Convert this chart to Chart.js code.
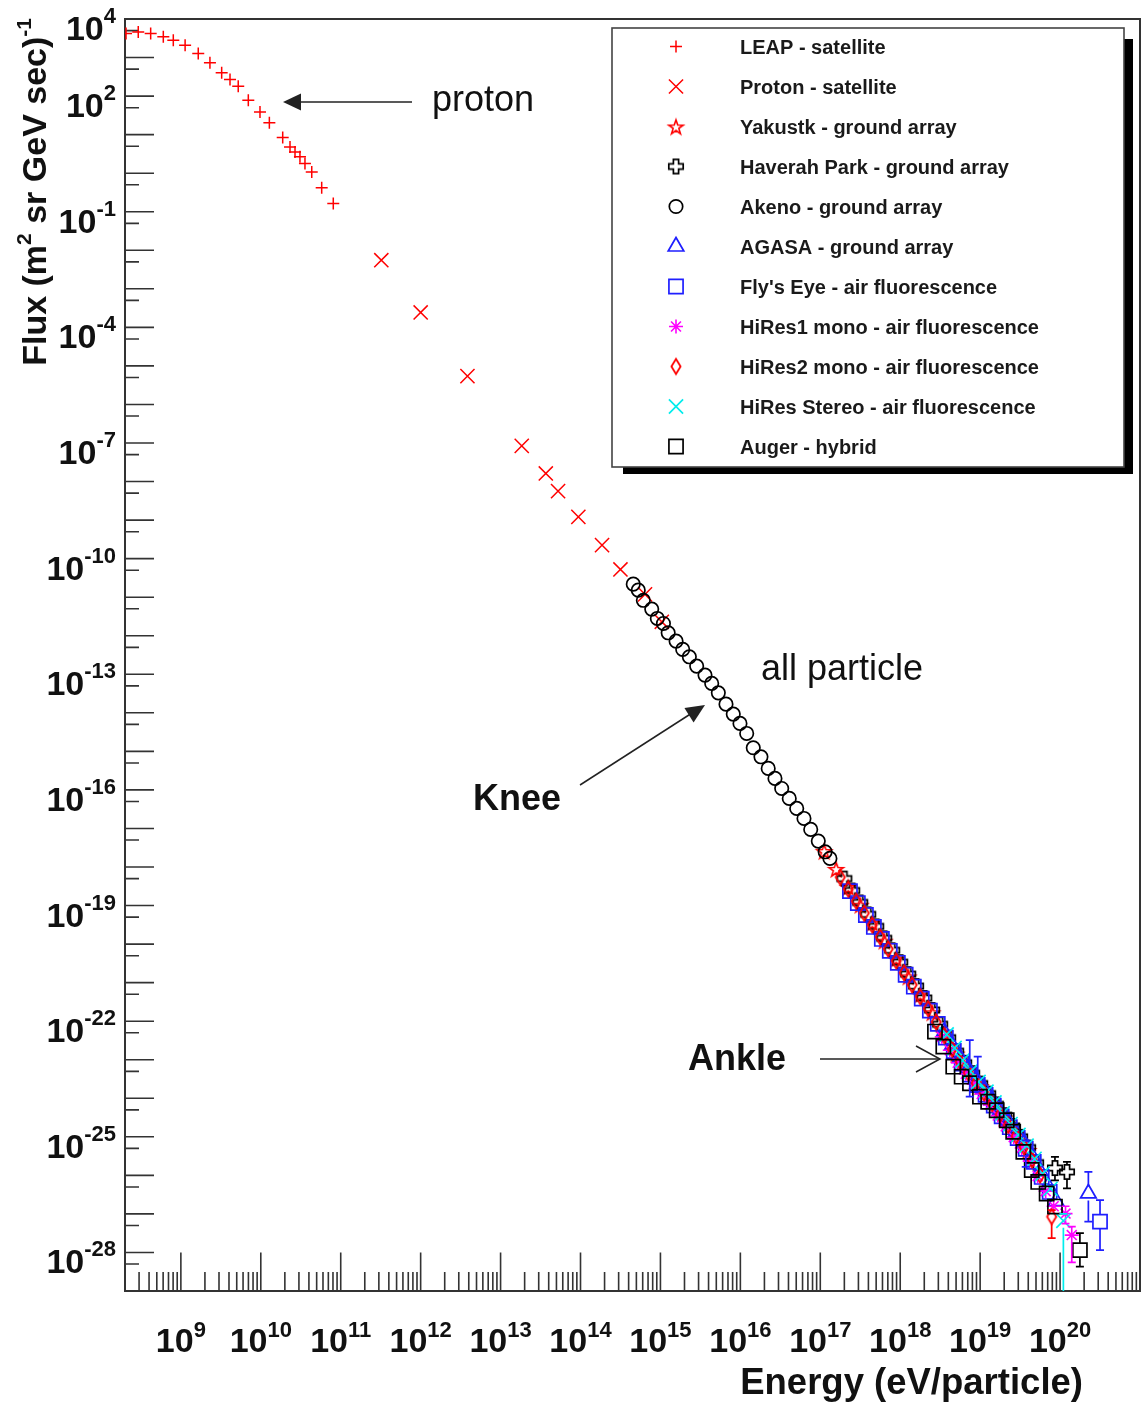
<!DOCTYPE html>
<html><head><meta charset="utf-8"><title>Cosmic ray energy spectrum</title>
<script src="https://cdn.jsdelivr.net/npm/chart.js@4.4.1/dist/chart.umd.min.js"></script>
<style>html,body{margin:0;padding:0;background:#fff;}canvas{display:block;}</style>
</head><body>
<canvas id="chart" width="1143" height="1416"></canvas>
<script>
// ---------------- DATA (energy in eV, flux in (m^2 sr GeV s)^-1) ----------------
const seriesNames = ["LEAP - satellite","Proton - satellite","Yakustk - ground array","Haverah Park - ground array",
  "Akeno - ground array","AGASA - ground array","Fly's Eye - air fluorescence","HiRes1 mono - air fluorescence",
  "HiRes2 mono - air fluorescence","HiRes Stereo - air fluorescence","Auger - hybrid"];

const leapE = [2.06e8,2.93e8,4.19e8,6.03e8,8.04e8,1.13e9,1.65e9,2.31e9,3.24e9,4.12e9,5.22e9,6.98e9,9.77e9,1.28e10,1.88e10,2.32e10,2.68e10,3.09e10,3.57e10,4.34e10,5.78e10,8.07e10];
const leapF = [4.21e3,4.62e3,4.21e3,3.44e3,2.82e3,2.09e3,1.27e3,728,401,270,181,78.3,38.9,20.2,8.43,4.81,3.57,2.65,1.78,1.08,0.416,0.164];

const protonE = [3.22e11,1.00e12,3.85e12,1.84e13,3.68e13,5.24e13,9.40e13,1.86e14,3.16e14,6.41e14,1.04e15];
const protonF = [5.53e-3,2.44e-4,5.42e-6,8.43e-8,1.62e-8,5.64e-9,1.21e-9,2.24e-10,5.25e-11,1.18e-11,2.30e-12];

const yakutskE = [1.12e17,1.58e17,2.24e17,3.16e17,4.47e17,6.31e17,8.91e17,1.26e18,1.78e18,2.51e18,3.55e18,5.01e18,7.08e18,1.00e19,1.41e19,2.00e19,2.82e19,3.98e19];
const yakutskF = [2.60e-18,8.91e-19,3.05e-19,1.05e-19,3.59e-20,1.23e-20,4.22e-21,1.45e-21,4.95e-22,1.70e-22,4.84e-23,1.45e-23,5.31e-24,2.09e-24,8.32e-25,3.16e-25,1.20e-25,4.57e-26];

const haverahE = [2.00e17,2.51e17,3.16e17,3.98e17,5.01e17,6.31e17,7.94e17,1.00e18,1.26e18,1.58e18,2.00e18,2.51e18,3.16e18,3.98e18,5.01e18,6.31e18,7.94e18,1.00e19,1.26e19,1.58e19,2.00e19,2.51e19,3.16e19,3.98e19,5.01e19,8.63e19,1.22e20];
const haverahF = [5.01e-19,2.45e-19,1.20e-19,5.89e-20,2.88e-20,1.41e-20,6.92e-21,3.39e-21,1.66e-21,8.13e-22,3.98e-22,1.95e-22,8.32e-23,3.72e-23,1.66e-23,8.32e-24,4.47e-24,2.40e-24,1.32e-24,6.92e-25,3.63e-25,1.91e-25,1.00e-25,5.25e-26,2.14e-26,1.55e-26,1.23e-26];
const haverahErr = [[8.63e19,7.41e-27,3.02e-26],[1.22e20,4.57e-27,2.24e-26]];

const akenoE = [4.57e14,5.28e14,6.11e14,7.78e14,9.14e14,1.09e15,1.25e15,1.57e15,1.90e15,2.30e15,2.84e15,3.61e15,4.38e15,5.30e15,6.61e15,8.15e15,9.89e15,1.20e16,1.45e16,1.81e16,2.23e16,2.71e16,3.29e16,4.09e16,5.07e16,6.25e16,7.59e16,9.44e16,1.15e17,1.32e17];
const akenoF = [2.18e-11,1.52e-11,8.30e-12,4.90e-12,2.81e-12,2.08e-12,1.19e-12,7.24e-13,4.42e-13,2.84e-13,1.63e-13,9.51e-14,5.79e-14,3.30e-14,1.68e-14,9.25e-15,5.31e-15,2.92e-15,1.24e-15,7.23e-16,3.61e-16,1.99e-16,1.09e-16,6.03e-17,3.31e-17,1.82e-17,9.44e-18,4.70e-18,2.48e-18,1.67e-18];

const agasaE = [3.55e18,4.47e18,5.62e18,7.08e18,8.91e18,1.12e19,1.41e19,1.78e19,2.24e19,2.82e19,3.55e19,4.47e19,5.62e19,7.08e19,8.91e19,2.26e20];
const agasaF = [5.31e-23,2.37e-23,1.12e-23,5.82e-24,3.13e-24,1.74e-24,9.12e-25,4.79e-25,2.51e-25,1.32e-25,6.92e-26,3.16e-26,1.29e-26,5.25e-27,2.14e-27,3.39e-27];
const agasaErr = [[2.26e20,6.31e-28,1.23e-26]];

const flysE = [2.35e17,2.95e17,3.72e17,4.68e17,5.89e17,7.41e17,9.33e17,1.17e18,1.48e18,1.86e18,2.35e18,2.95e18,3.72e18,4.68e18,5.89e18,7.41e18,9.33e18,1.17e19,1.48e19,1.86e19,2.35e19,2.95e19,3.72e19,4.68e19,5.89e19,7.41e19,3.16e20];
const flysF = [2.37e-19,1.16e-19,5.69e-20,2.79e-20,1.36e-20,6.68e-21,3.27e-21,1.60e-21,7.85e-22,3.85e-22,1.88e-22,8.51e-23,3.76e-23,1.68e-23,7.94e-24,4.12e-24,2.21e-24,1.23e-24,6.46e-25,3.39e-25,1.78e-25,9.33e-26,4.90e-26,2.24e-26,9.12e-27,3.72e-27,6.31e-28];
const flysErr = [[7.41e18,1.10e-24,3.24e-23],[9.33e18,1.50e-24,1.20e-23],[3.72e19,1.66e-26,8.13e-26],[3.16e20,1.15e-28,2.29e-27]];

const hires1E = [3.31e18,4.17e18,5.24e18,6.60e18,8.31e18,1.045e19,1.32e19,1.66e19,2.09e19,2.63e19,3.31e19,4.17e19,5.24e19,6.60e19,8.31e19,1.17e20,1.40e20];
const hires1F = [3.94e-23,1.76e-23,8.32e-24,4.32e-24,2.32e-24,1.29e-24,6.76e-25,3.55e-25,1.86e-25,9.77e-26,5.13e-26,2.34e-26,9.55e-27,3.89e-27,1.58e-27,1.02e-27,2.82e-28];
const hires1Err = [[1.17e20,5.62e-28,1.58e-27],[1.40e20,5.5e-29,4.7e-28]];

const hires2E = [1.78e17,2.24e17,2.82e17,3.55e17,4.47e17,5.62e17,7.08e17,8.91e17,1.12e18,1.41e18,1.78e18,2.24e18,2.82e18,3.55e18,4.47e18,5.62e18,7.08e18,8.91e18,1.12e19,1.41e19,1.78e19,2.24e19,2.82e19,3.55e19,4.47e19,5.62e19,7.85e19];
const hires2F = [5.43e-19,2.66e-19,1.30e-19,6.38e-20,3.13e-20,1.53e-20,7.50e-21,3.67e-21,1.80e-21,8.81e-22,4.32e-22,2.11e-22,9.55e-23,4.22e-23,1.88e-23,8.91e-24,4.62e-24,2.48e-24,1.38e-24,7.24e-25,3.80e-25,2.00e-25,1.05e-25,5.50e-26,2.51e-26,1.02e-26,8.50e-28];
const hires2Err = [[7.85e19,2.34e-28,1.26e-27]];

const stereoE = [3.81e18,4.79e18,6.03e18,7.59e18,9.55e18,1.20e19,1.51e19,1.91e19,2.40e19,3.02e19,3.81e19,4.79e19,6.03e19,7.59e19,1.10e20];
const stereoF = [4.52e-23,2.02e-23,9.55e-24,4.95e-24,2.66e-24,1.48e-24,7.76e-25,4.07e-25,2.14e-25,1.12e-25,5.89e-26,2.69e-26,1.10e-26,4.47e-27,6.61e-28];
const stereoErr = [[1.10e20,1e-35,1.0e-27]];

const augerE = [2.72e18,3.46e18,4.61e18,5.87e18,7.46e18,9.95e18,1.26e19,1.61e19,2.15e19,2.59e19,3.47e19,4.42e19,5.33e19,6.79e19,8.63e19,1.77e20];
const augerF = [5.37e-23,2.19e-23,6.61e-24,3.63e-24,2.45e-24,1.10e-24,8.13e-25,4.90e-25,2.69e-25,1.35e-25,4.07e-26,1.38e-26,6.76e-27,3.39e-27,1.55e-27,1.15e-28];
const augerErr = [[1.77e20,4.27e-29,3.16e-28]];

const xTickExponents = ["9","10","11","12","13","14","15","16","17","18","19","20"];
const yTickExponents = ["4","2","-1","-4","-7","-10","-13","-16","-19","-22","-25","-28"];
const xRange = [2e8, 1e21];
const yRange = [1e-29, 1e4];

// ---------------- STYLES ----------------
const FONT = '"Liberation Sans", Arial, Helvetica, sans-serif';
const RED = '#ff0000', BLUE = '#1f1fff', MAG = '#ff00ff', CYAN = '#00eded', BLK = '#000000';

function makeMarker(size, draw){
  const c = document.createElement('canvas'); c.width = size; c.height = size;
  const g = c.getContext('2d'); draw(g, size/2); return c;
}
const starImg = makeMarker(20, (g,c)=>{
  g.strokeStyle = RED; g.lineWidth = 1.6; g.beginPath();
  for (let i=0;i<10;i++){ const r = (i%2)?3.0:7.6; const a=-Math.PI/2+i*Math.PI/5;
    const px=c+r*Math.cos(a), py=c+1+r*Math.sin(a); if(i) g.lineTo(px,py); else g.moveTo(px,py); }
  g.closePath(); g.stroke();
});
const hpCrossImg = makeMarker(20, (g,c)=>{
  const a=2.6, L=7.2; g.strokeStyle=BLK; g.lineWidth=1.7;
  const pts=[[-a,-L],[a,-L],[a,-a],[L,-a],[L,a],[a,a],[a,L],[-a,L],[-a,a],[-L,a],[-L,-a],[-a,-a]];
  g.beginPath(); pts.forEach((p,i)=>{ if(i) g.lineTo(c+p[0],c+p[1]); else g.moveTo(c+p[0],c+p[1]); });
  g.closePath(); g.stroke();
});
const diamondImg = makeMarker(20, (g,c)=>{
  g.strokeStyle=RED; g.lineWidth=1.8; g.beginPath();
  g.moveTo(c,c-7.5); g.lineTo(c+4.6,c); g.lineTo(c,c+7.5); g.lineTo(c-4.6,c); g.closePath(); g.stroke();
});

const series = [
  {E:leapE,   F:leapF,   err:[],        color:RED,  style:'cross',    r:6,   bw:1.5},
  {E:protonE, F:protonF, err:[],        color:RED,  style:'crossRot', r:10,  bw:1.5},
  {E:yakutskE,F:yakutskF,err:[],        color:RED,  style:starImg,    r:8,   bw:1.6},
  {E:haverahE,F:haverahF,err:haverahErr,color:BLK,  style:hpCrossImg, r:8,   bw:1.7},
  {E:akenoE,  F:akenoF,  err:[],        color:BLK,  style:'circle',   r:6.7, bw:1.7},
  {E:agasaE,  F:agasaF,  err:agasaErr,  color:BLUE, style:'triangle', r:9,   bw:1.7},
  {E:flysE,   F:flysF,   err:flysErr,   color:BLUE, style:'rect',     r:10,  bw:1.7},
  {E:hires1E, F:hires1F, err:hires1Err, color:MAG,  style:'star',     r:7,   bw:1.6},
  {E:hires2E, F:hires2F, err:hires2Err, color:RED,  style:diamondImg, r:8,   bw:1.8},
  {E:stereoE, F:stereoF, err:stereoErr, color:CYAN, style:'crossRot', r:10,  bw:1.7},
  {E:augerE,  F:augerF,  err:augerErr,  color:BLK,  style:'rect',     r:10,  bw:1.7}
];

const datasets = series.map((s,i)=>({
  label: seriesNames[i],
  data: s.E.map((e,j)=>({x:e, y:s.F[j]})),
  showLine:false,
  pointStyle: s.style,
  pointRadius: s.r,
  pointHoverRadius: s.r,
  pointBorderWidth: s.bw,
  pointBorderColor: s.color,
  pointBackgroundColor: 'rgba(0,0,0,0)',
  order: series.length - i
}));

// ---------------- HELPERS ----------------
function drawRich(ctx, x, y, parts, align){
  let w = 0;
  parts.forEach(p=>{ ctx.font=p.font; p.w=ctx.measureText(p.t).width; w+=p.w; });
  let cx = align==='right' ? x-w : (align==='center' ? x-w/2 : x);
  ctx.textAlign='left'; ctx.textBaseline='alphabetic';
  parts.forEach(p=>{ ctx.font=p.font; ctx.fillText(p.t, cx, y+(p.dy||0)); cx+=p.w; });
}
function arrowHead(ctx, tx, ty, fx, fy, len, half, filled){
  const dx=tx-fx, dy=ty-fy, d=Math.hypot(dx,dy), ux=dx/d, uy=dy/d;
  const bx=tx-ux*len, by=ty-uy*len, nx=-uy, ny=ux;
  ctx.beginPath();
  if (filled){ ctx.moveTo(tx,ty); ctx.lineTo(bx+nx*half,by+ny*half); ctx.lineTo(bx-nx*half,by-ny*half); ctx.closePath(); ctx.fill(); }
  else { ctx.moveTo(bx+nx*half,by+ny*half); ctx.lineTo(tx,ty); ctx.lineTo(bx-nx*half,by-ny*half); ctx.stroke(); }
}

// ---------------- PLUGINS ----------------
const framePlugin = {
  id:'rootFrame',
  beforeDatasetsDraw(chart){
    const ctx=chart.ctx, a=chart.chartArea, xs=chart.scales.x, ys=chart.scales.y;
    ctx.save();
    ctx.strokeStyle='#333'; ctx.lineWidth=1.6; ctx.beginPath();
    for (let e=-29; e<=3; e++){
      const v=Math.pow(10,e);
      if (e>-29){ const py=ys.getPixelForValue(v); ctx.moveTo(a.left,py); ctx.lineTo(a.left+29,py); }
      const ps=ys.getPixelForValue(5*v); ctx.moveTo(a.left,ps); ctx.lineTo(a.left+14,ps);
    }
    for (let n=8; n<=20; n++){
      for (let k=1; k<=9; k++){
        const v=k*Math.pow(10,n);
        if (v<=xs.min*1.001 || v>=xs.max*0.999) continue;
        const px=xs.getPixelForValue(v), len=(k===1)?38.5:19;
        ctx.moveTo(px,a.bottom); ctx.lineTo(px,a.bottom-len);
      }
    }
    ctx.stroke();
    ctx.lineWidth=2; ctx.strokeStyle='#333';
    ctx.strokeRect(a.left, a.top, a.right-a.left, a.bottom-a.top);
    ctx.restore();
  },
  afterDatasetsDraw(chart){
    const ctx=chart.ctx, a=chart.chartArea, xs=chart.scales.x, ys=chart.scales.y;
    ctx.save();
    ctx.beginPath(); ctx.rect(a.left,a.top,a.right-a.left,a.bottom-a.top); ctx.clip();
    series.forEach(s=>{
      ctx.strokeStyle=s.color; ctx.lineWidth=1.7;
      s.err.forEach(e=>{
        const px=xs.getPixelForValue(e[0]);
        const j=s.E.indexOf(e[0]); const py=ys.getPixelForValue(s.F[j]);
        const plo=ys.getPixelForValue(e[1]), phi=ys.getPixelForValue(e[2]);
        const g=7;
        ctx.beginPath();
        ctx.moveTo(px,py+g); ctx.lineTo(px,plo);
        ctx.moveTo(px,py-g); ctx.lineTo(px,phi);
        ctx.moveTo(px-4,plo); ctx.lineTo(px+4,plo);
        ctx.moveTo(px-4,phi); ctx.lineTo(px+4,phi);
        ctx.stroke();
      });
    });
    ctx.restore();
  },
  afterDraw(chart){
    const ctx=chart.ctx, a=chart.chartArea, xs=chart.scales.x, ys=chart.scales.y;
    ctx.save();
    ctx.fillStyle='#111';
    const big='bold 34px '+FONT, sup='bold 22px '+FONT;
    yTickExponents.forEach(ex=>{
      const py=ys.getPixelForValue(Number('1e'+ex));
      drawRich(ctx, 116, py+21, [{t:'10',font:big},{t:ex,font:sup,dy:-17}], 'right');
    });
    xTickExponents.forEach(ex=>{
      const px=xs.getPixelForValue(Number('1e'+ex));
      drawRich(ctx, px, 1352, [{t:'10',font:big},{t:ex,font:sup,dy:-15}], 'center');
    });
    drawRich(ctx, 1083, 1394, [{t:'Energy (eV/particle)',font:'bold 36.5px '+FONT}], 'right');
    ctx.save(); ctx.translate(46, 18); ctx.rotate(-Math.PI/2);
    drawRich(ctx, 0, 0, [{t:'Flux (m',font:'bold 34px '+FONT},{t:'2',font:'bold 21px '+FONT,dy:-15},
      {t:' sr GeV sec)',font:'bold 34px '+FONT},{t:'-1',font:'bold 21px '+FONT,dy:-15}], 'right');
    ctx.restore();

    ctx.strokeStyle='#222'; ctx.fillStyle='#222'; ctx.lineWidth=1.5;
    ctx.beginPath(); ctx.moveTo(412,102); ctx.lineTo(298,102); ctx.stroke();
    arrowHead(ctx, 283,102, 412,102, 18, 8.5, true);
    ctx.beginPath(); ctx.moveTo(580,785); ctx.lineTo(692,713); ctx.stroke();
    arrowHead(ctx, 705,705, 580,785, 19, 8.5, true);
    ctx.beginPath(); ctx.moveTo(820,1059); ctx.lineTo(940,1059); ctx.stroke();
    arrowHead(ctx, 940,1059, 820,1059, 24, 13, false);
    ctx.fillStyle='#111';
    drawRich(ctx, 432, 111, [{t:'proton',font:'36px '+FONT}], 'left');
    drawRich(ctx, 761, 680, [{t:'all particle',font:'36px '+FONT}], 'left');
    drawRich(ctx, 473, 810, [{t:'Knee',font:'bold 36px '+FONT}], 'left');
    drawRich(ctx, 688, 1070, [{t:'Ankle',font:'bold 36px '+FONT}], 'left');

    const L={l:612,t:28,r:1124,b:467};
    ctx.fillStyle='#000'; ctx.fillRect(L.l+11, L.t+11, L.r-L.l-2, L.b-L.t-4);
    ctx.fillStyle='#fff'; ctx.fillRect(L.l, L.t, L.r-L.l, L.b-L.t);
    ctx.strokeStyle='#444'; ctx.lineWidth=1.6; ctx.strokeRect(L.l, L.t, L.r-L.l, L.b-L.t);
    series.forEach((s,i)=>{
      const y=46.5+40*i;
      ctx.save();
      ctx.strokeStyle=s.color; ctx.fillStyle='rgba(0,0,0,0)'; ctx.lineWidth=s.bw;
      Chart.helpers.drawPoint(ctx, {pointStyle:s.style, radius:s.r, rotation:0, borderWidth:s.bw}, 676, y);
      ctx.restore();
      ctx.fillStyle='#1a1a1a';
      drawRich(ctx, 740, y+7, [{t:seriesNames[i],font:'bold 20px '+FONT}], 'left');
    });
    ctx.restore();
  }
};

new Chart(document.getElementById('chart'), {
  type:'scatter',
  data:{datasets},
  options:{
    responsive:false, animation:false, devicePixelRatio:1,
    layout:{autoPadding:false, padding:{left:125, top:19, right:3, bottom:125}},
    scales:{
      x:{type:'logarithmic', min:xRange[0], max:xRange[1], display:false},
      y:{type:'logarithmic', min:yRange[0], max:yRange[1], display:false}
    },
    plugins:{legend:{display:false}, tooltip:{enabled:false}}
  },
  plugins:[framePlugin]
});
</script>
</body></html>
